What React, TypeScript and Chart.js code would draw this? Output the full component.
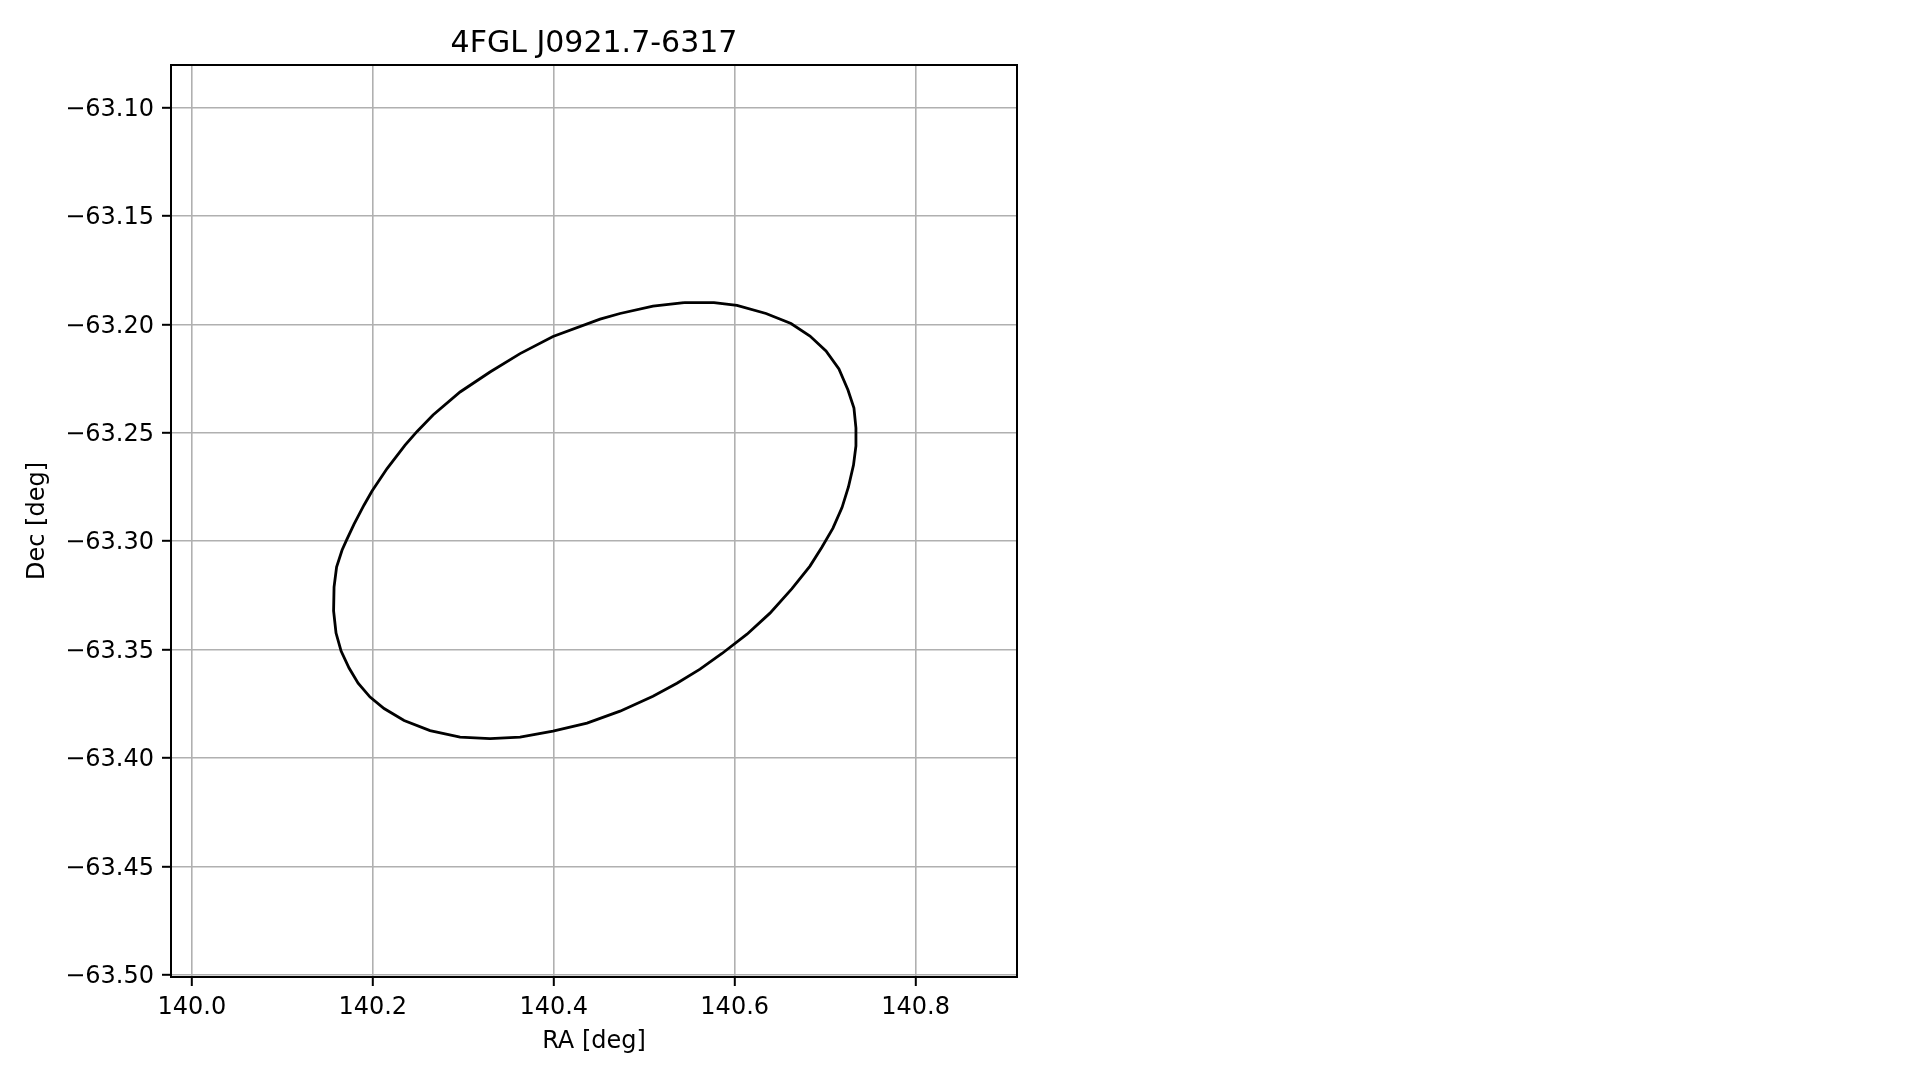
import React, { useEffect, useRef } from "react";
import { Chart, registerables } from "chart.js";

Chart.register(...registerables);

const chartTitle = "4FGL J0921.7-6317";
const xAxisTitle = "RA [deg]";
const yAxisTitle = "Dec [deg]";

// Ellipse outline vertices, clockwise from the top
const raValues = [
  140.5440, 140.5771, 140.6025, 140.6346, 140.6622, 140.6832, 140.7009, 140.7152,
  140.7252, 140.7318, 140.7340, 140.7340, 140.7313, 140.7257, 140.7186, 140.7086,
  140.6965, 140.6832, 140.6633, 140.6390, 140.6136, 140.5860, 140.5617, 140.5362,
  140.5097, 140.4733, 140.4368, 140.3992, 140.3628, 140.3296, 140.2965, 140.2633,
  140.2346, 140.2125, 140.1970, 140.1838, 140.1738, 140.1650, 140.1594, 140.1567,
  140.1572, 140.1600, 140.1661, 140.1710, 140.1793, 140.1904, 140.1992, 140.2158,
  140.2357, 140.2490, 140.2666, 140.2965, 140.3296, 140.3628, 140.3992, 140.4512,
  140.4733, 140.5097, 140.5440,
];
const decValues = [
  -63.1900, -63.1900, -63.1913, -63.1950, -63.1996, -63.2054, -63.2123, -63.2206,
  -63.2303, -63.2386, -63.2478, -63.2561, -63.2649, -63.2750, -63.2845, -63.2940,
  -63.3027, -63.3115, -63.3219, -63.3332, -63.3429, -63.3518, -63.3590, -63.3655,
  -63.3715, -63.3784, -63.3839, -63.3876, -63.3904, -63.3911, -63.3904, -63.3874,
  -63.3827, -63.3772, -63.3719, -63.3655, -63.3585, -63.3507, -63.3424, -63.3322,
  -63.3212, -63.3119, -63.3041, -63.2995, -63.2921, -63.2833, -63.2769, -63.2665,
  -63.2557, -63.2494, -63.2418, -63.2312, -63.2220, -63.2135, -63.2056, -63.1976,
  -63.1950, -63.1916, -63.1900,
];

const xTicks = [140.0, 140.2, 140.4, 140.6, 140.8];
const yTicks = [-63.5, -63.45, -63.4, -63.35, -63.3, -63.25, -63.2, -63.15, -63.1];
const xRange = [139.977, 140.912];
const yRange = [-63.501, -63.0804];

const FONT = "'DejaVu Sans', sans-serif";

const framePlugin = {
  id: "frame",
  afterDraw(chart: any) {
    const { ctx, chartArea } = chart;
    ctx.save();
    ctx.strokeStyle = "#000";
    ctx.lineWidth = 2;
    ctx.strokeRect(chartArea.left, chartArea.top, chartArea.right - chartArea.left, chartArea.bottom - chartArea.top);
    ctx.restore();
  },
};

export default function App() {
  const ref = useRef<HTMLCanvasElement>(null);

  useEffect(() => {
    if (!ref.current) return;
    const points = raValues.map((x, i) => ({ x, y: decValues[i] }));
    const chart = new Chart(ref.current, {
      type: "scatter",
      data: {
        datasets: [
          {
            data: points,
            showLine: true,
            borderColor: "#000",
            borderWidth: 2.8,
            pointRadius: 0,
            tension: 0,
            fill: false,
          },
        ],
      },
      options: {
        responsive: false,
        animation: false,
        layout: { padding: { left: 0, top: 0, right: 902, bottom: 0 } },
        plugins: {
          legend: { display: false },
          tooltip: { enabled: false },
          title: {
            display: true,
            text: chartTitle,
            fullSize: false,
            color: "#000",
            font: { family: FONT, size: 30, weight: "normal" },
            padding: { top: 26.5, bottom: 2.5 },
          },
        },
        scales: {
          x: {
            type: "linear",
            min: xRange[0],
            max: xRange[1],
            afterBuildTicks: (axis: any) => {
              axis.ticks = xTicks.map((v) => ({ value: v }));
            },
            afterFit: (axis: any) => {
              axis.height = 103;
            },
            border: { display: false },
            grid: {
              color: "#b0b0b0",
              lineWidth: 1.6,
              drawTicks: true,
              tickLength: 9,
              tickColor: "#000",
              tickWidth: 2,
            },
            ticks: {
              color: "#000",
              font: { family: FONT, size: 24 },
              padding: 7,
              maxRotation: 0,
              autoSkip: false,
              callback: (v: any) => Number(v).toFixed(1),
            },
            title: {
              display: true,
              text: xAxisTitle,
              color: "#000",
              font: { family: FONT, size: 24 },
              padding: { top: 0, bottom: 24 },
            },
          },
          y: {
            type: "linear",
            min: yRange[0],
            max: yRange[1],
            afterBuildTicks: (axis: any) => {
              axis.ticks = yTicks.map((v) => ({ value: v }));
            },
            afterFit: (axis: any) => {
              axis.width = 171;
            },
            border: { display: false },
            grid: {
              color: "#b0b0b0",
              lineWidth: 1.6,
              drawTicks: true,
              tickLength: 9,
              tickColor: "#000",
              tickWidth: 2,
            },
            ticks: {
              color: "#000",
              font: { family: FONT, size: 24 },
              padding: 8,
              labelOffset: 2,
              autoSkip: false,
              callback: (v: any) => {
                const n = Number(v);
                const s = Math.abs(n).toFixed(2);
                return (n < 0 ? "\u2212" : "") + s;
              },
            },
            title: {
              display: true,
              text: yAxisTitle,
              color: "#000",
              font: { family: FONT, size: 24 },
              padding: { top: 23, bottom: 0 },
            },
          },
        },
      },
      plugins: [framePlugin],
    });
    return () => chart.destroy();
  }, []);

  return (
    <div style={{ position: "absolute", left: 0, top: 0, width: 1919, height: 1080, background: "#fff" }}>
      <canvas ref={ref} width={1919} height={1080} style={{ display: "block" }} />
    </div>
  );
}
